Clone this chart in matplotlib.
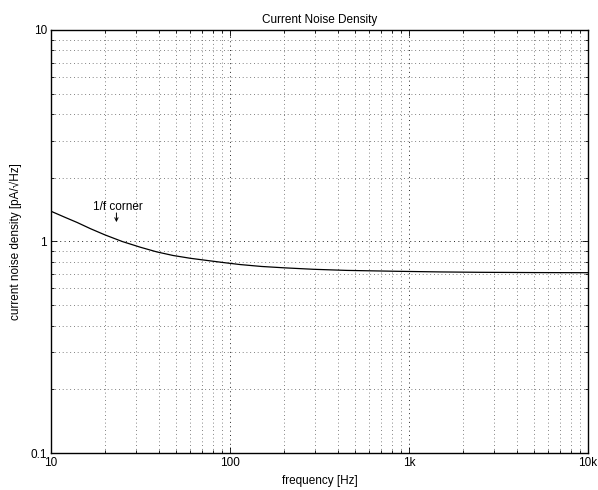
import matplotlib
matplotlib.use("Agg")
import matplotlib.pyplot as plt
from matplotlib.ticker import FixedLocator, FixedFormatter, LogLocator, NullFormatter

# values (Hz, pA/sqrt(Hz))
freq = [10, 12, 14, 16.6, 20, 25, 31.5, 39, 48, 60, 74, 92, 114, 150, 200, 292, 450, 857, 1500, 2500, 5000, 10000]
noise = [1.39, 1.30, 1.23, 1.15, 1.075, 1.0, 0.94, 0.893, 0.859, 0.833, 0.814, 0.795, 0.778, 0.762, 0.751, 0.739, 0.73, 0.723, 0.718, 0.715, 0.713, 0.712]

x_ticks = [10, 100, 1000, 10000]
x_labels = ["10", "100", "1k", "10k"]
y_ticks = [0.1, 1, 10]
y_labels = ["0.1", "1", "10"]

plt.rcParams['font.family'] = ['Liberation Sans', 'DejaVu Sans']
plt.rcParams['font.size'] = 8.5

fig = plt.figure(figsize=(5.98, 4.90), dpi=100)
ax = fig.add_axes([51 / 598, 1 - 453 / 490, 537 / 598, 423 / 490])

ax.plot(freq, noise, color='black', lw=0.9)

ax.set_xscale('log')
ax.set_yscale('log')
ax.set_xlim(10, 10000)
ax.set_ylim(0.1, 10)

ax.xaxis.set_major_locator(FixedLocator(x_ticks))
ax.xaxis.set_major_formatter(FixedFormatter(x_labels))
ax.yaxis.set_major_locator(FixedLocator(y_ticks))
ax.yaxis.set_major_formatter(FixedFormatter(y_labels))
ax.xaxis.set_minor_locator(LogLocator(base=10, subs=range(2, 10)))
ax.yaxis.set_minor_locator(LogLocator(base=10, subs=range(2, 10)))
ax.xaxis.set_minor_formatter(NullFormatter())
ax.yaxis.set_minor_formatter(NullFormatter())

ax.tick_params(which='both', direction='in', top=True, right=True, width=0.6)
ax.tick_params(which='major', length=4, pad=3)
ax.tick_params(which='minor', length=2)

# matlab-style dotted grid
ax.grid(True, which='major', color='0.15', linestyle=(0, (1, 3.5)), lw=0.7)
ax.grid(True, which='minor', color='0.35', linestyle=(0, (1, 3.5)), lw=0.6)

for sp in ax.spines.values():
    sp.set_linewidth(1.0)

ax.set_title("Current Noise Density", fontsize=8.5, pad=5)
ax.set_xlabel("frequency [Hz]", labelpad=4)
ax.set_ylabel("current noise density [pA/√Hz]", labelpad=6)

ax.text(23.5, 1.41, "1/f corner", ha='center', va='baseline', fontsize=8.5)
ax.annotate("", xy=(23.2, 1.235), xytext=(23.2, 1.365),
            arrowprops=dict(arrowstyle='->', lw=0.7, color='black',
                            shrinkA=0, shrinkB=0, mutation_scale=6))

fig.savefig("out.png", dpi=100)
